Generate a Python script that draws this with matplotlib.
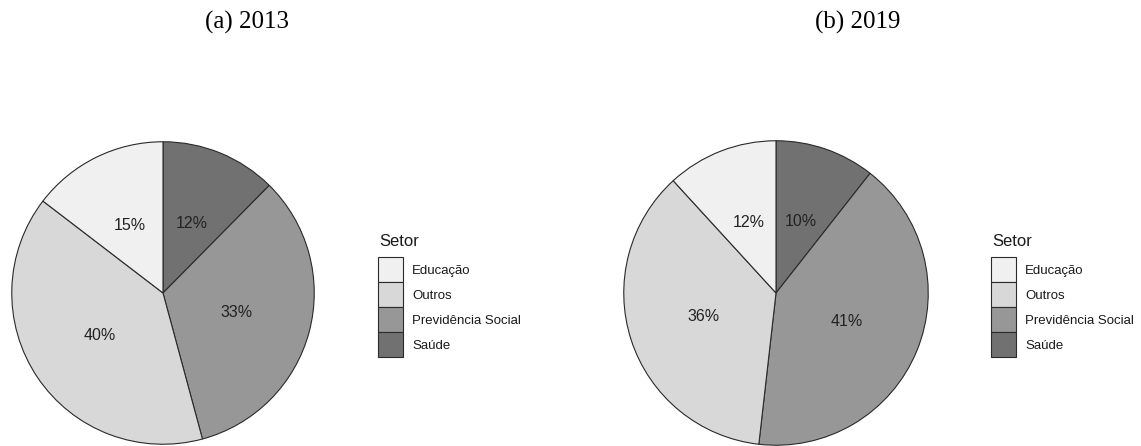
import matplotlib
matplotlib.use("Agg")
import matplotlib.pyplot as plt
from matplotlib.patches import Patch

# slices in drawing order (clockwise from 12 o'clock)
setores = ["Saúde", "Previdência Social", "Outros", "Educação"]
share_2013 = [12.4, 33.4, 39.6, 14.6]
share_2019 = [10.6, 41.2, 36.4, 11.8]
rotulos_2013 = ["12%", "33%", "40%", "15%"]
rotulos_2019 = ["10%", "41%", "36%", "12%"]
titulos = ["(a) 2013", "(b) 2019"]

cores = {"Educação": "#f0f0f0", "Outros": "#d8d8d8",
         "Previdência Social": "#979797", "Saúde": "#717171"}
ordem_legenda = ["Educação", "Outros", "Previdência Social", "Saúde"]

W, H = 1141, 446
fig = plt.figure(figsize=(W / 100, H / 100), dpi=100)

paineis = [
    # centre x, centre y (px from top), radius, legend x, title x
    (163, 293, 152, 378, 247),
    (776, 293, 153, 991, 858),
]
dados = [(share_2013, rotulos_2013), (share_2019, rotulos_2019)]

for (cx, cy, r, lx, tx), (vals, rots), titulo in zip(paineis, dados, titulos):
    ax = fig.add_axes([(cx - r) / W, (H - cy - r) / H, 2 * r / W, 2 * r / H])
    wedges, texts = ax.pie(vals, labels=rots, startangle=90, counterclock=False,
                           colors=[cores[s] for s in setores], labeldistance=0.5,
                           wedgeprops=dict(edgecolor="#2a2a2a", linewidth=0.8),
                           textprops=dict(fontsize=11.5, color="#222222",
                                          family="Liberation Sans"),
                           radius=1.0)
    for t in texts:
        t.set_ha("center")
        t.set_va("center")
    ax.set_xlim(-1.005, 1.005)
    ax.set_ylim(-1.005, 1.005)
    ax.set_aspect("equal")
    ax.axis("off")

    handles = [Patch(facecolor=cores[s], edgecolor="#2a2a2a", linewidth=0.8)
               for s in ordem_legenda]
    leg = fig.legend(handles, ordem_legenda, loc="upper left",
                     bbox_to_anchor=(lx / W, 1 - 257 / H), frameon=False,
                     borderpad=0, borderaxespad=0, labelspacing=0,
                     handlelength=1.9, handleheight=2.54, handletextpad=0.68,
                     prop=dict(family="Liberation Sans", size=9.5))
    for t in leg.get_texts():
        t.set_color("#1a1a1a")
    fig.text((lx + 1) / W, 1 - 242 / H, "Setor", ha="left", va="center",
             family="Liberation Sans", fontsize=12, color="#1a1a1a")

    fig.text(tx / W, 1 - 22 / H, titulo, ha="center", va="center",
             family="Liberation Serif", fontsize=18)

fig.savefig("out.png", dpi=100)
